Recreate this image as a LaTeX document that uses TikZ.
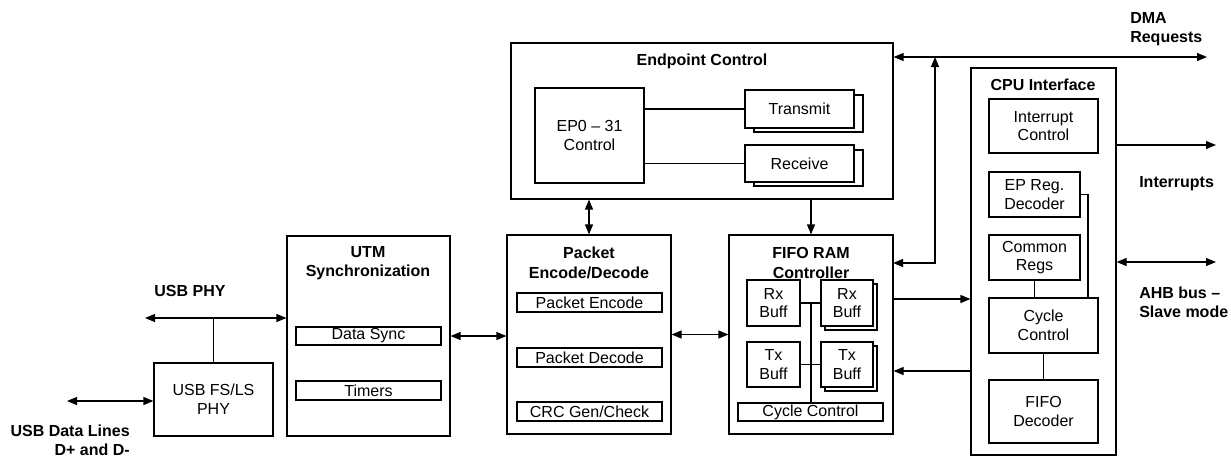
\documentclass[tikz,border=0pt]{standalone}
\usepackage{fontspec}
\setmainfont{Liberation Sans}
\usetikzlibrary{arrows.meta,calc}
\begin{document}
\begin{tikzpicture}[x=0.75pt,y=-0.75pt,
  font=\fontsize{12}{14}\selectfont,
  box/.style={draw=black, line width=0.9pt, fill=white, inner sep=0pt, align=center},
  lbl/.style={font=\fontsize{12}{14.5}\selectfont\bfseries, inner sep=0pt},
  conn/.style={line width=0.9pt},
  arr/.style={conn,-{Triangle[length=7.5pt,width=6pt]}},
  darr/.style={conn,{Triangle[length=7.5pt,width=6pt]}-{Triangle[length=7.5pt,width=6pt]}},
]
\useasboundingbox (0,0) rectangle (1231,458);
\newcommand\mybox[6]{\node[box, minimum width={(#4-#2)*0.75pt}, minimum height={(#5-#3)*0.75pt}]
  (#1) at ({(#2+#4)/2},{(#3+#5)/2}) {#6};}

% Endpoint control
\mybox{ep}{511}{43}{893}{199}{}
\node[lbl] (eptitle) at (702,61) {Endpoint Control};
\mybox{epc}{535}{88}{644}{183}{EP0 \textendash\ 31\\Control}
\mybox{txb}{754}{95}{863}{132}{}
\mybox{tx}{745}{90}{854}{128}{Transmit}
\mybox{rxb}{754}{150}{863}{186}{}
\mybox{rx}{745}{145}{854}{182}{Receive}
\draw[conn] (epc.east |- tx.west) -- (tx.west);
\draw[conn] (epc.east |- rx.west) -- (rx.west);

% USB PHY
\mybox{phy}{154}{363}{273}{436}{USB FS/LS\\PHY}
\node[lbl] (usbphy) at (190,291) {USB PHY};
\node[lbl, align=right, anchor=east] (dlines) at (130,440) {USB Data Lines\\D+ and D-};

% UTM
\mybox{utm}{287}{236}{450}{436}{}
\node[lbl, align=center] (utmtitle) at (368,263) {UTM\\Synchronization};
\mybox{dsync}{296}{327}{441}{345}{Data Sync}
\mybox{timers}{296}{381}{441}{400}{Timers}

\coordinate (usbl) at (145,318);
\draw[darr] (usbl) -- (usbl -| utm.west);
\draw[conn] (phy.north) -- (phy.north |- usbl);
\coordinate (dl) at (67,401);
\draw[darr] (dl) -- (dl -| phy.west);

% Packet
\mybox{pk}{507}{235}{671}{434}{}
\node[lbl, align=center] (pktitle) at (589,263) {Packet\\Encode/Decode};
\mybox{pke}{517}{293}{662}{312}{Packet Encode}
\mybox{pkd}{517}{348}{662}{367}{Packet Decode}
\mybox{crc}{517}{402}{662}{421}{CRC Gen/Check}

% FIFO
\mybox{fifo}{729}{235}{893}{434}{}
\node[lbl, align=center] (fifotitle) at (811,263) {FIFO RAM\\Controller};
\mybox{rxl}{747}{280}{800}{326}{Rx\\Buff}
\mybox{rxrb}{825}{284}{877}{330}{}
\mybox{rxr}{821}{280}{873}{326}{Rx\\Buff}
\mybox{txl}{747}{342}{800}{387}{Tx\\Buff}
\mybox{txrb}{825}{346}{877}{391}{}
\mybox{txr}{821}{342}{873}{387}{Tx\\Buff}
\mybox{cyc}{738}{403}{883}{421}{Cycle Control}
\draw[conn] (rxl.east) -- (rxr.west);
\draw[conn] (txl.east) -- (txr.west);
\coordinate (bt) at (811,303);
\draw[conn] (bt) -- (bt |- cyc.north);

% CPU
\mybox{cpu}{971}{68}{1116}{455}{}
\node[lbl] (cputitle) at (1043,85) {CPU Interface};
\mybox{irqc}{989}{99}{1098}{153}{Interrupt\\Control}
\mybox{epreg}{989}{172}{1080}{217}{EP Reg.\\Decoder}
\mybox{creg}{989}{235}{1080}{280}{Common\\Regs}
\mybox{ccyc}{989}{298}{1098}{353}{Cycle\\Control}
\mybox{fdec}{989}{380}{1098}{443}{FIFO\\Decoder}
\draw[conn] (creg.south) -- (creg.south |- ccyc.north);
\draw[conn] (ccyc.south) -- (fdec.north);
\coordinate (epj) at (1088,194);
\draw[conn] (epreg.east) -| (epj |- ccyc.north);

% inter-block connectors
\draw[darr] (utm.east) -- (utm.east -| pk.west);
\draw[darr] (pk.east) -- (fifo.west);
\draw[darr] (pk.north) -- (pk.north |- ep.south);
\draw[arr] (fifo.north |- ep.south) -- (fifo.north);
\coordinate (f2c) at (893,299);
\draw[arr] (f2c) -- (f2c -| cpu.west);
\coordinate (c2f) at (971,371);
\draw[arr] (c2f) -- (c2f -| fifo.east);

% DMA
\coordinate (dma) at (1207,57);
\draw[darr] (dma -| ep.east) -- (dma);
\coordinate (vj) at (935,57);
\coordinate (fj) at (893,263);
\draw[darr] (vj) |- (fj);
\node[lbl, align=left, anchor=west] (dmalbl) at (1130,29) {DMA\\Requests};

% Interrupts
\coordinate (irq) at (1216,145);
\draw[arr] (irq -| cpu.east) -- (irq);
\node[lbl, anchor=west] (irqlbl) at (1139,184) {Interrupts};

% AHB
\coordinate (ahb) at (1216,262);
\draw[darr] (ahb -| cpu.east) -- (ahb);
\node[lbl, align=left, anchor=west] (ahblbl) at (1139,302) {AHB bus \textendash\\Slave mode};
\end{tikzpicture}
\end{document}
